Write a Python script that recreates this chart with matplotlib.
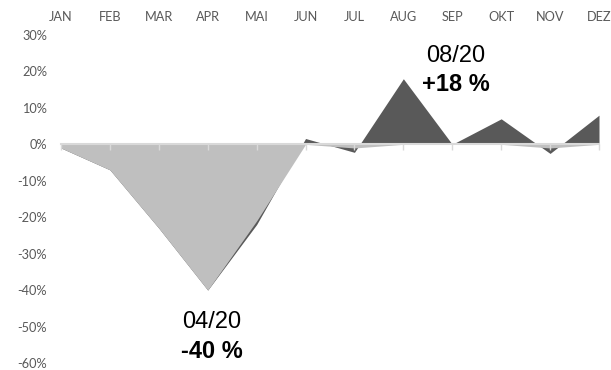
import matplotlib.pyplot as plt

months = ['JAN', 'FEB', 'MAR', 'APR', 'MAI', 'JUN', 'JUL', 'AUG', 'SEP', 'OKT', 'NOV', 'DEZ']
# dark series: full change per month (%)
dark = [-1, -7, -23, -40, -22, 1.6, -2.2, 18, 0, 7, -2.5, 8]
# light series: negative part drawn in front
light = [-1, -7, -23, -40, -21, 0, -1, 0, 0, 0, -1, 0]
yticks = [30, 20, 10, 0, -10, -20, -30, -40, -50, -60]

x = list(range(len(months)))

fig = plt.figure(figsize=(6.11, 3.70), dpi=100)
ax = fig.add_axes([61 / 611, 7 / 370, 538 / 611, 328 / 370])

ax.fill_between(x, dark, 0, color='#595959', lw=0, zorder=1)
ax.fill_between(x, light, 0, color='#bfbfbf', lw=0, zorder=1.5)

ax.set_xlim(0, 11)
ax.set_ylim(-60, 30)

for s in ['top', 'right', 'left']:
    ax.spines[s].set_visible(False)
ax.spines['bottom'].set_position(('data', 0))
ax.spines['bottom'].set_color('#d9d9d9')
ax.spines['bottom'].set_linewidth(1.5)
ax.spines['bottom'].set_zorder(3)
ax.set_xticks(x)
ax.tick_params(axis='x', direction='out', length=4, color='#d9d9d9', width=1, labelbottom=False)

ax.set_yticks(yticks)
ax.set_yticklabels([f'{v}%' for v in yticks], family='Lato', fontsize=9.2, color='#595959')
ax.tick_params(axis='y', length=0, pad=10)

top = ax.secondary_xaxis('top')
top.set_xticks(x)
top.set_xticklabels(months, family='Lato', fontsize=9.2, color='#595959')
top.tick_params(length=0, pad=8.5)
top.spines['top'].set_visible(False)

ax.text(3.08, -48.8, '04/20', ha='center', va='center', fontsize=17, family='Liberation Sans')
ax.text(3.08, -56.8, '-40 %', ha='center', va='center', fontsize=17, family='Liberation Sans', weight='bold')
ax.text(8.08, 24.3, '08/20', ha='center', va='center', fontsize=17, family='Liberation Sans')
ax.text(8.08, 16.4, '+18 %', ha='center', va='center', fontsize=17, family='Liberation Sans', weight='bold')

fig.savefig('out.png', dpi=100)
